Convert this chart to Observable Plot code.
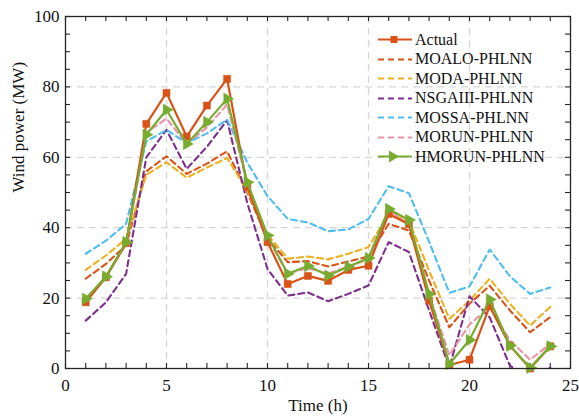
<!DOCTYPE html>
<html>
<head>
<meta charset="utf-8">
<script src="https://cdn.jsdelivr.net/npm/d3@7"></script>
<script src="https://cdn.jsdelivr.net/npm/@observablehq/plot@0.6"></script>
<style>
  body { margin: 0; background: white; }
  #wrap { position: relative; width: 579px; height: 417px; font-family: "Liberation Serif", serif; }
  #wrap svg text { font-family: "Liberation Serif", serif; }
  #legend { position: absolute; left: 377px; top: 30px; }
  .row { display: flex; align-items: center; height: 19.5px; font-size: 16px; color: #111; font-family: "Liberation Serif", serif; }
  .row svg { margin-right: 3px; }
</style>
</head>
<body>
<div id="wrap"></div>
<script>
// ---- data ----
const hours = [1,2,3,4,5,6,7,8,9,10,11,12,13,14,15,16,17,18,19,20,21,22,23,24];
const actual = [18.8,25.9,35.6,69.5,78.3,65.9,74.7,82.3,51.6,35.9,24.0,26.3,24.9,28.0,29.2,43.9,41.0,19.3,1.0,2.5,17.7,6.5,0.0,6.3];
const moalo  = [25.5,29.7,35.0,56.0,60.3,55.3,58.2,61.7,50.0,37.0,30.2,30.5,29.0,30.4,31.8,41.1,39.2,25.0,11.7,18.4,23.5,16.5,10.3,14.6];
const moda   = [28.0,32.1,36.8,55.0,58.6,54.2,57.1,59.8,50.5,38.0,31.2,31.8,31.0,32.6,34.5,43.9,42.0,27.8,14.1,19.3,25.5,18.4,12.2,17.5];
const nsga   = [13.6,18.8,26.9,60.0,67.8,56.7,63.0,70.5,47.0,28.3,20.7,21.6,19.1,21.2,23.6,35.9,33.1,16.5,0.3,20.5,14.5,0.8,-3.0,0.3];
const mossa  = [32.6,36.3,41.1,64.5,67.8,64.0,66.8,70.7,58.5,49.0,42.5,41.5,39.0,39.5,42.5,51.8,49.8,36.0,21.5,23.3,33.8,26.2,21.2,23.0];
const morun  = [19.2,26.2,35.2,67.0,71.0,63.8,68.5,75.0,52.5,37.0,27.0,28.5,27.0,29.0,31.0,45.0,41.0,21.0,3.8,12.5,17.4,8.0,2.5,7.0];
const hmorun = [19.8,26.1,35.9,66.4,73.5,63.8,70.0,76.6,52.9,37.8,26.9,29.1,26.4,28.9,31.4,45.3,42.2,21.2,1.3,8.1,19.6,6.5,0.2,6.3];

const seriesNames = ["Actual","MOALO-PHLNN","MODA-PHLNN","NSGAIII-PHLNN","MOSSA-PHLNN","MORUN-PHLNN","HMORUN-PHLNN"];
const seriesColors = ["#D95319","#D95319","#EDB120","#7E2F8E","#4DBEEE","#E993A5","#77AC30"];

const xTickLabels = [0,5,10,15,20,25];
const yTickLabels = [0,20,40,60,80,100];
const xMinorTicks = [0,1,2,3,4,5,6,7,8,9,10,11,12,13,14,15,16,17,18,19,20,21,22,23,24,25];
const yMinorTicks = [0,5,10,15,20,25,30,35,40,45,50,55,60,65,70,75,80,85,90,95,100];
const xGrid = [5,10,15,20];
const yGrid = [20,40,60,80];

const xLabel = "Time (h)";
const yLabel = "Wind power (MW)";

// ---- layout ----
const W = 579, H = 417;
const mL = 65, mR = 9, mT = 16, mB = 49;
const fw = W - mL - mR, fh = H - mT - mB;
const tickLen = 5;

const rows = (vals) => hours.map((h, i) => ({h, v: vals[i]}));
const dashed = (vals, color) => Plot.line(rows(vals), {x: "h", y: "v", stroke: color, strokeWidth: 2.1, strokeDasharray: "6,4", clip: true});

const plot = Plot.plot({
  width: W, height: H,
  marginLeft: mL, marginRight: mR, marginTop: mT, marginBottom: mB,
  x: {domain: [0, 25]},
  y: {domain: [0, 100]},
  style: {fontFamily: "'Liberation Serif', serif", fontSize: "17px", background: "white", color: "#111"},
  marks: [
    Plot.gridX(xGrid, {stroke: "#d6d6d6", strokeOpacity: 1, strokeWidth: 1.3, strokeDasharray: "7,5"}),
    Plot.gridY(yGrid, {stroke: "#d6d6d6", strokeOpacity: 1, strokeWidth: 1.3, strokeDasharray: "7,5"}),
    // inward ticks on all four sides
    Plot.ruleX(xMinorTicks, {stroke: "#262626", strokeWidth: 1.1, insetTop: fh - tickLen}),
    Plot.ruleX(xMinorTicks, {stroke: "#262626", strokeWidth: 1.1, insetBottom: fh - tickLen}),
    Plot.ruleY(yMinorTicks, {stroke: "#262626", strokeWidth: 1.1, insetRight: fw - tickLen}),
    Plot.ruleY(yMinorTicks, {stroke: "#262626", strokeWidth: 1.1, insetLeft: fw - tickLen}),
    Plot.axisX({ticks: xTickLabels, tickSize: 0, tickPadding: 10, label: null}),
    Plot.axisY({ticks: yTickLabels, tickSize: 0, tickPadding: 6, label: null}),
    Plot.text([xLabel], {frameAnchor: "bottom", dy: 37, lineAnchor: "middle", fontSize: 17}),
    Plot.text([yLabel], {frameAnchor: "left", dx: -47, rotate: -90, lineAnchor: "middle", fontSize: 17}),
    dashed(moalo, seriesColors[1]),
    dashed(moda, seriesColors[2]),
    dashed(nsga, seriesColors[3]),
    dashed(mossa, seriesColors[4]),
    dashed(morun, seriesColors[5]),
    Plot.line(rows(actual), {x: "h", y: "v", stroke: seriesColors[0], strokeWidth: 2.2, clip: true}),
    Plot.dot(rows(actual), {x: "h", y: "v", symbol: "square", r: 4, fill: seriesColors[0], stroke: seriesColors[0], strokeWidth: 0.5}),
    Plot.line(rows(hmorun), {x: "h", y: "v", stroke: seriesColors[6], strokeWidth: 2.2, clip: true}),
    Plot.dot(rows(hmorun), {x: "h", y: "v", symbol: "triangle", rotate: 90, r: 4.3, fill: seriesColors[6], stroke: seriesColors[6], strokeWidth: 0.5}),
    Plot.frame({stroke: "#262626", strokeWidth: 1.3})
  ]
});

const wrap = document.getElementById("wrap");
wrap.appendChild(plot);

// legend inside the plot area
const legend = document.createElement("div");
legend.id = "legend";
seriesNames.forEach((name, i) => {
  const row = document.createElement("div");
  row.className = "row";
  const c = seriesColors[i];
  let sym = "";
  if (i === 0) sym = `<rect x="13.5" y="6" width="7" height="7" fill="${c}"/>`;
  if (i === 6) sym = `<path d="M12,3.5 L22,9.5 L12,15.5 Z" fill="${c}"/>`;
  const dash = (i === 0 || i === 6) ? "" : `stroke-dasharray="6,4"`;
  row.innerHTML = `<svg width="35" height="19"><line x1="1" x2="35" y1="9.5" y2="9.5" stroke="${c}" stroke-width="2.1" ${dash}/>${sym}</svg><span>${name}</span>`;
  legend.appendChild(row);
});
wrap.appendChild(legend);
</script>
</body>
</html>
